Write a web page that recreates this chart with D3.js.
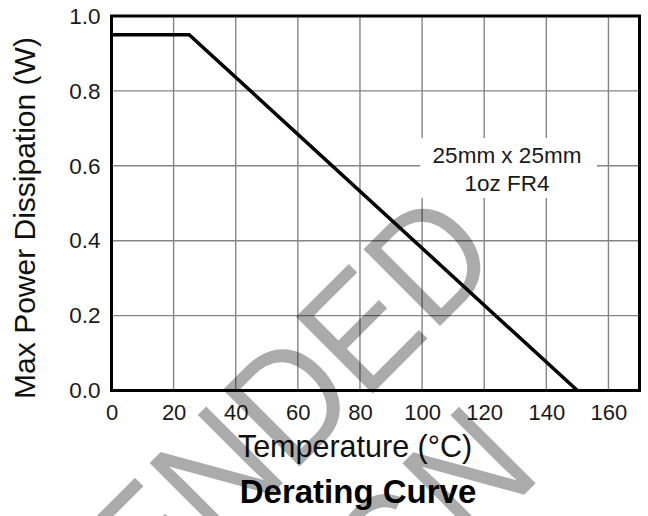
<!DOCTYPE html>
<html>
<head>
<meta charset="utf-8">
<script src="https://cdn.jsdelivr.net/npm/d3@7"></script>
<style>
  body { margin: 0; background: #fff; }
  svg { display: block; font-family: "Liberation Sans", Arial, sans-serif; }
</style>
</head>
<body>
<svg id="chart" width="648" height="516"></svg>
<script>
// derating curve
const tempC  = [0, 25, 150];
const powerW = [0.95, 0.95, 0];

const xTicks = [0, 20, 40, 60, 80, 100, 120, 140, 160];
const yTicks = [0, 0.2, 0.4, 0.6, 0.8, 1.0];

const noteLines = ["25mm x 25mm", "1oz FR4"];
const stampLines = ["NOT RECOMMENDED", "FOR NEW DESIGN"];

const svg = d3.select("#chart");

//  plot box
const L = 111.5, R = 639.5, T = 16, B = 390.5;

const x = d3.scaleLinear().domain([0, 170]).range([L, R]);
const y = d3.scaleLinear().domain([0, 1]).range([B, T]);

// grid
const grid = svg.append("g").attr("stroke", "#858585").attr("stroke-width", 1.4);
grid.selectAll("line.v").data(xTicks.filter(d => d > 0)).enter()
    .append("line").attr("class", "v")
    .attr("x1", d => x(d)).attr("x2", d => x(d))
    .attr("y1", T).attr("y2", B);
grid.selectAll("line.h").data(yTicks.filter(d => d > 0 && d < 1)).enter()
    .append("line").attr("class", "h")
    .attr("x1", L).attr("x2", R)
    .attr("y1", d => y(d)).attr("y2", d => y(d));

// note box (white patch over the grid)
svg.append("rect")
    .attr("x", 420).attr("y", 138).attr("width", 177).attr("height", 60)
    .attr("fill", "#fff");
svg.append("g").selectAll("text").data(noteLines).enter()
    .append("text")
    .attr("x", 507)
    .attr("y", (d, i) => 163 + i * 28)
    .attr("text-anchor", "middle")
    .attr("font-size", 22.5)
    .attr("fill", "#1a1a1a")
    .text(d => d);

// curve
const line = d3.line().x((d, i) => x(tempC[i])).y(d => y(d));
svg.append("path")
    .datum(powerW)
    .attr("d", line)
    .attr("fill", "none")
    .attr("stroke", "#000")
    .attr("stroke-width", 3.5)
    .attr("stroke-linejoin", "miter");

// frame
svg.append("rect")
    .attr("x", L).attr("y", T).attr("width", R - L).attr("height", B - T)
    .attr("fill", "none").attr("stroke", "#000").attr("stroke-width", 3);

// axes (labels only)
const xAxis = svg.append("g")
    .attr("transform", `translate(0,${B})`)
    .call(d3.axisBottom(x).tickValues(xTicks).tickSize(0).tickPadding(14));
xAxis.select(".domain").remove();
xAxis.selectAll("text")
    .attr("font-size", 22).attr("fill", "#1a1a1a")
    .attr("font-family", "Liberation Sans, Arial, sans-serif");

const yAxis = svg.append("g")
    .attr("transform", `translate(${L},0)`)
    .call(d3.axisLeft(y).tickValues(yTicks).tickFormat(d3.format(".1f")).tickSize(0).tickPadding(11));
yAxis.select(".domain").remove();
yAxis.selectAll("text")
    .attr("font-size", 22.5).attr("fill", "#1a1a1a")
    .attr("font-family", "Liberation Sans, Arial, sans-serif");

// titles
svg.append("text")
    .attr("x", 355).attr("y", 457)
    .attr("text-anchor", "middle")
    .attr("font-size", 30.5)
    .attr("fill", "#111")
    .text("Temperature (°C)");

svg.append("text")
    .attr("x", 358).attr("y", 503)
    .attr("text-anchor", "middle")
    .attr("font-size", 33)
    .attr("font-weight", "bold")
    .attr("fill", "#000")
    .text("Derating Curve");

svg.append("text")
    .attr("transform", "translate(35,218) rotate(-90)")
    .attr("text-anchor", "middle")
    .attr("font-size", 30)
    .attr("fill", "#111")
    .text("Max Power Dissipation (W)");

// watermark - letters a bit taller than the font's own
const stamp = svg.append("g")
    .attr("fill", "#000").attr("fill-opacity", 0.33)
    .attr("font-size", 150);
stamp.append("text")
    .attr("transform", "translate(505,261) rotate(-45) scale(0.955,1.05)")
    .attr("text-anchor", "end")
    .text(stampLines[0]);
stamp.append("text")
    .attr("transform", "translate(544,475) rotate(-45) scale(0.955,1.05)")
    .attr("text-anchor", "end")
    .text(stampLines[1]);
</script>
</body>
</html>
